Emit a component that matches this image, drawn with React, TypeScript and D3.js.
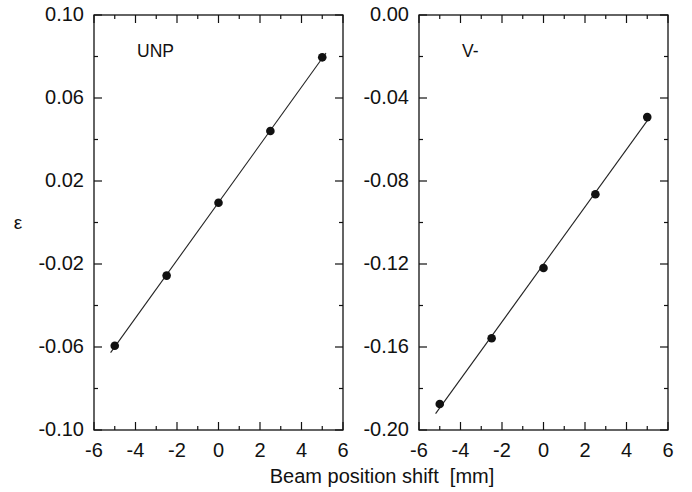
import React from "react";
import * as d3 from "d3";

const xPositions = [-5, -2.5, 0, 2.5, 5];
const unpValues = [-0.0594, -0.0256, 0.0095, 0.0441, 0.0796];
const vMinusValues = [-0.1875, -0.1558, -0.1219, -0.0864, -0.0492];
const xTicks = [-6, -4, -2, 0, 2, 4, 6];
const unpYTicks = [0.1, 0.06, 0.02, -0.02, -0.06, -0.1];
const vYTicks = [0, -0.04, -0.08, -0.12, -0.16, -0.2];
const unpFitRange = [-5.2, 5.18];
const vFitRange = [-5.2, 5.02];

const W = 692;
const H = 492;
const FONT = "'Liberation Sans', Arial, Helvetica, sans-serif";

function fit(xs: number[], ys: number[]) {
  const mx = d3.mean(xs)!;
  const my = d3.mean(ys)!;
  let sxy = 0, sxx = 0;
  xs.forEach((x, i) => {
    sxy += (x - mx) * (ys[i] - my);
    sxx += (x - mx) * (x - mx);
  });
  const b = sxy / sxx;
  const a = my - b * mx;
  return (x: number) => a + b * x;
}

type PanelProps = {
  left: number;
  right: number;
  top: number;
  bottom: number;
  yDomain: [number, number];
  yTicks: number[];
  values: number[];
  fitRange: number[];
  label: string;
};

function Panel({ left, right, top, bottom, yDomain, yTicks, values, fitRange, label }: PanelProps) {
  const x = d3.scaleLinear().domain([-6, 6]).range([left, right]);
  const y = d3.scaleLinear().domain(yDomain).range([bottom, top]);
  const f = fit(xPositions, values);
  const line = d3
    .line<number>()
    .x((d) => x(d))
    .y((d) => y(f(d)));
  const xMinor = d3.range(-5, 6, 2);
  const yStep = yTicks[0] - yTicks[1];
  const yMinor = yTicks.slice(0, -1).map((t) => t - yStep / 2);
  const fmt = d3.format(".2f");
  const major = 8;
  const minor = 4;
  return (
    <g>
      <rect x={left} y={top} width={right - left} height={bottom - top} fill="none" stroke="#111" strokeWidth={1.3} />
      {xTicks.map((t) => (
        <g key={"xt" + t}>
          <line x1={x(t)} x2={x(t)} y1={bottom} y2={bottom - major} stroke="#111" strokeWidth={1.2} />
          <line x1={x(t)} x2={x(t)} y1={top} y2={top + major} stroke="#111" strokeWidth={1.2} />
          <text x={x(t)} y={456.5} textAnchor="middle" fontSize={20} fontFamily={FONT} fill="#111">
            {t}
          </text>
        </g>
      ))}
      {xMinor.map((t) => (
        <g key={"xm" + t}>
          <line x1={x(t)} x2={x(t)} y1={bottom} y2={bottom - minor} stroke="#111" strokeWidth={1.2} />
          <line x1={x(t)} x2={x(t)} y1={top} y2={top + minor} stroke="#111" strokeWidth={1.2} />
        </g>
      ))}
      {yTicks.map((t) => (
        <g key={"yt" + t}>
          <line x1={left} x2={left + major} y1={y(t)} y2={y(t)} stroke="#111" strokeWidth={1.2} />
          <line x1={right} x2={right - major} y1={y(t)} y2={y(t)} stroke="#111" strokeWidth={1.2} />
          <text x={left - 10} y={y(t) + 5.5} textAnchor="end" fontSize={20} fontFamily={FONT} fill="#111">
            {fmt(t).replace("−", "-")}
          </text>
        </g>
      ))}
      {yMinor.map((t) => (
        <g key={"ym" + t}>
          <line x1={left} x2={left + minor} y1={y(t)} y2={y(t)} stroke="#111" strokeWidth={1.2} />
          <line x1={right} x2={right - minor} y1={y(t)} y2={y(t)} stroke="#111" strokeWidth={1.2} />
        </g>
      ))}
      <path d={line(fitRange) || ""} fill="none" stroke="#222" strokeWidth={1.1} />
      {xPositions.map((xv, i) => (
        <circle key={"p" + i} cx={x(xv)} cy={y(values[i])} r={4.3} fill="#111" />
      ))}
      <text x={x(-6) + 43} y={56.5} fontSize={17.5} fontFamily={FONT} fill="#111">
        {label}
      </text>
    </g>
  );
}

export default function App() {
  return (
    <svg width={W} height={H} style={{ position: "absolute", left: 0, top: 0, background: "#fff" }}>
      <rect width={W} height={H} fill="#fff" />
      <Panel left={94} right={343} top={15} bottom={430} yDomain={[-0.1, 0.1]} yTicks={unpYTicks} values={unpValues} fitRange={unpFitRange} label="UNP" />
      <Panel left={419} right={668} top={15} bottom={430} yDomain={[-0.2, 0]} yTicks={vYTicks} values={vMinusValues} fitRange={vFitRange} label="V-" />
      <text x={18} y={229} textAnchor="middle" fontSize={19} fontFamily={FONT} fill="#111">
        ε
      </text>
      <text x={382} y={483} textAnchor="middle" fontSize={20} fontFamily={FONT} fill="#111" style={{ whiteSpace: "pre" }}>
        {"Beam position shift  [mm]"}
      </text>
    </svg>
  );
}
